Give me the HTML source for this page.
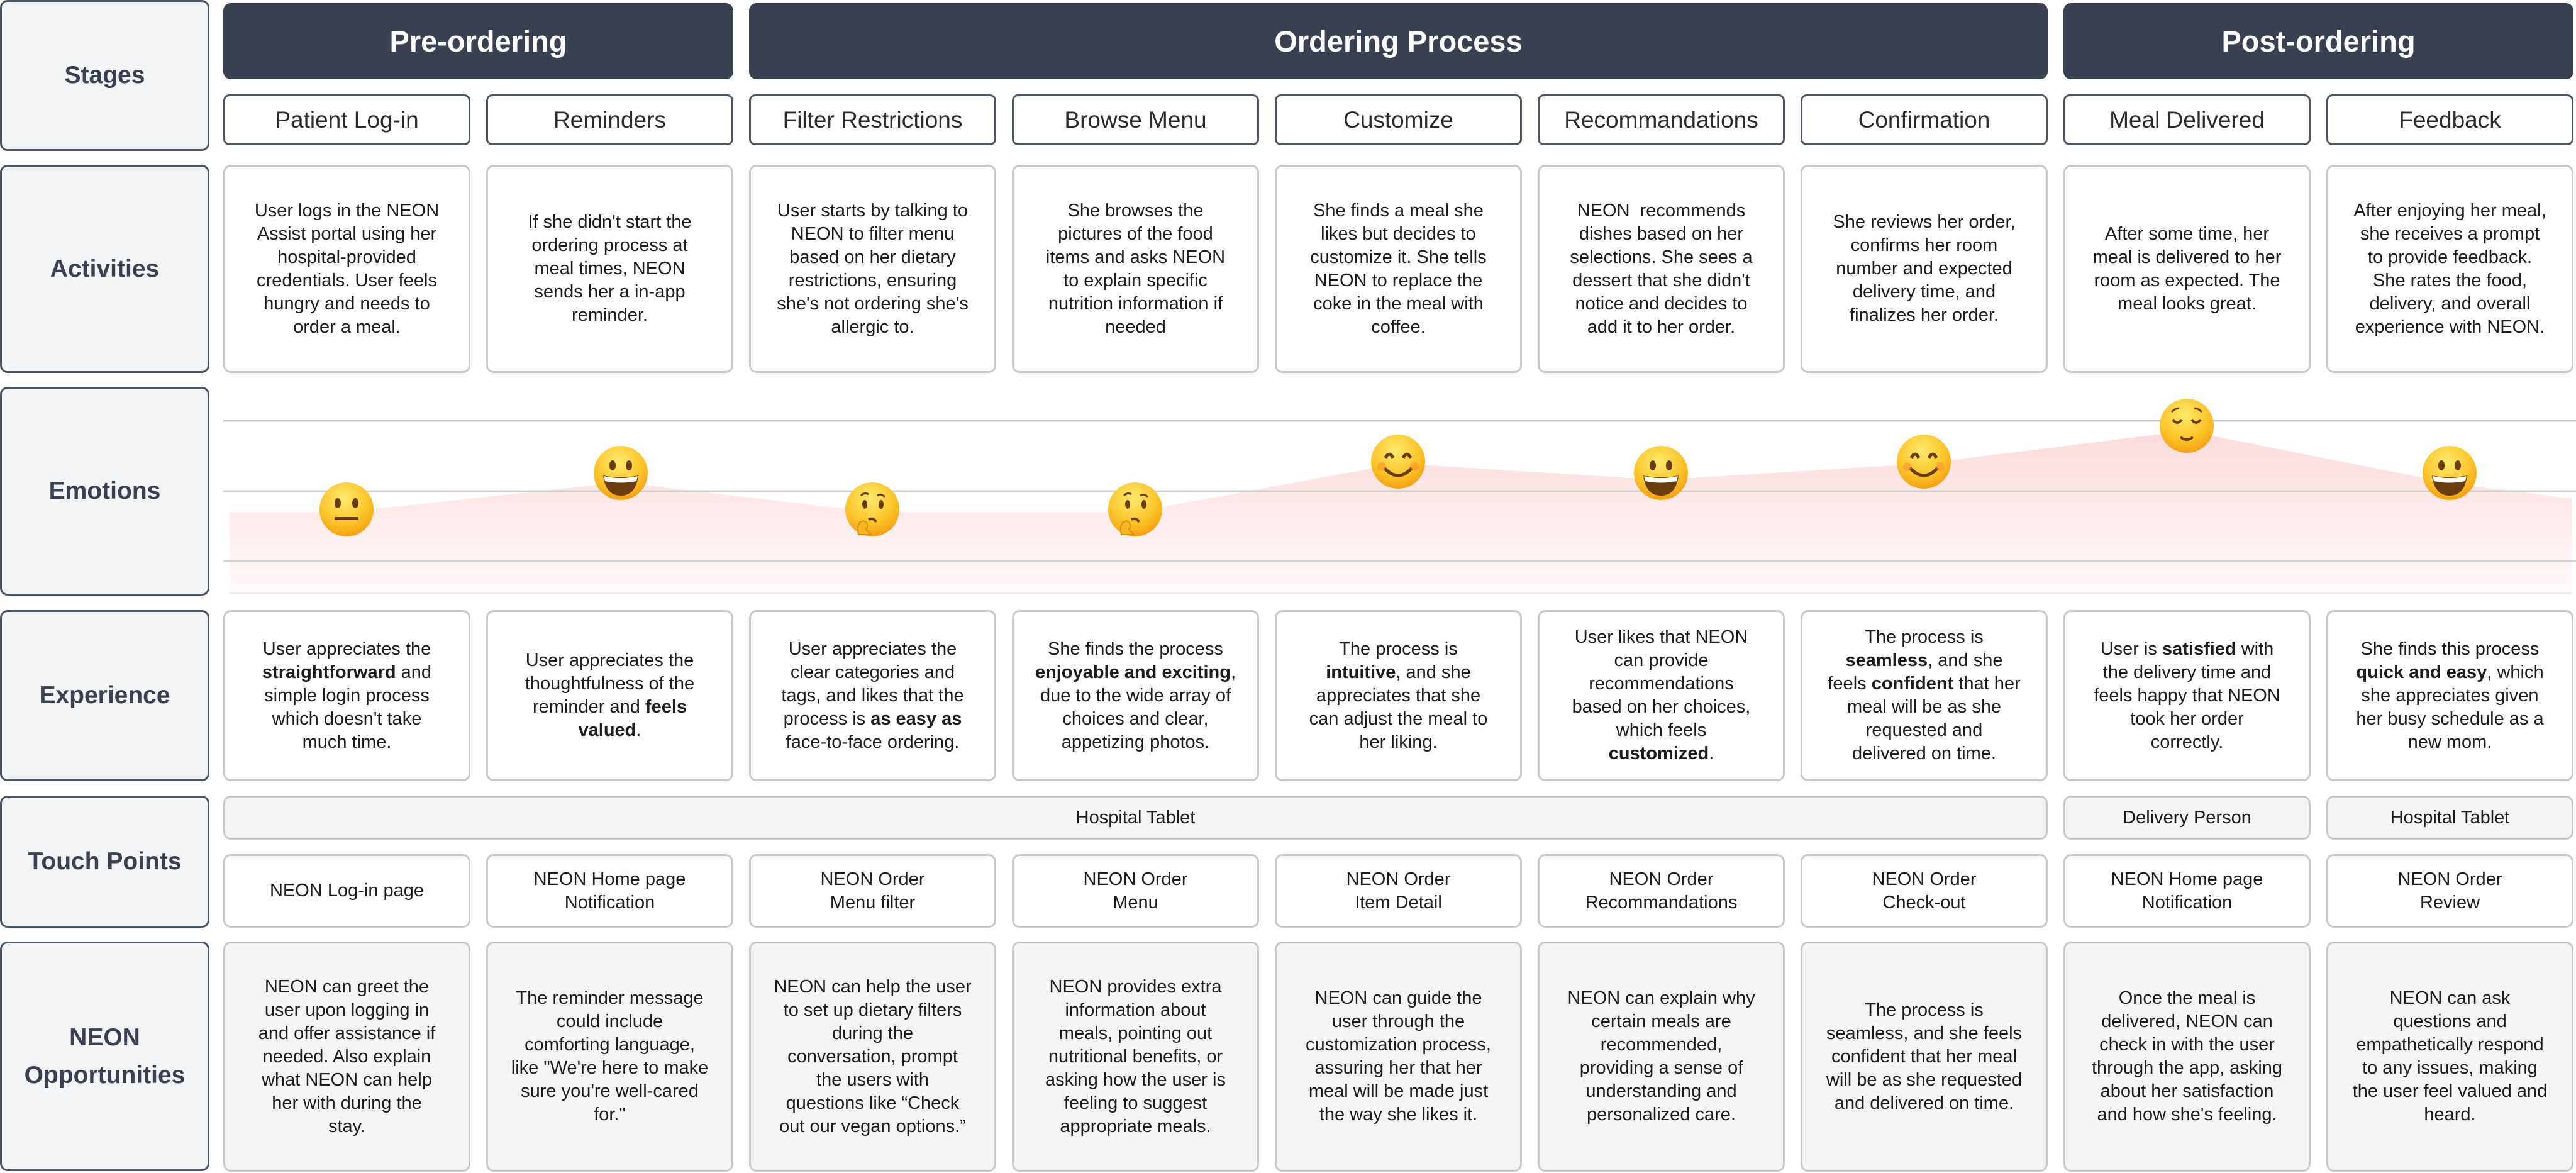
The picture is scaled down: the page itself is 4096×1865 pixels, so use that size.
<!DOCTYPE html>
<html><head><meta charset="utf-8"><style>
*{box-sizing:border-box;margin:0;padding:0}
body{width:4096px;height:1865px;background:#fff;position:relative;overflow:hidden;font-family:"Liberation Sans",Arial,sans-serif;color:#1c1c1c}
.a{position:absolute;display:flex;align-items:center;justify-content:center;text-align:center}
.a>div{white-space:nowrap}
.lab{background:#f3f4f6;border:3px solid #4b5563;border-radius:12px;font-weight:bold;font-size:39px;color:#394150;line-height:60px;left:0;width:333px}
.st{background:#394150;color:#fff;font-weight:bold;font-size:47px;border-radius:12px;top:5px;height:121px}
.sub{border:3px solid #4b5563;border-radius:10px;font-size:37px;color:#2b2b2b;top:150px;height:81px;width:393px;background:#fff}
.c{border:3px solid #c9c9c9;border-radius:12px;font-size:29px;line-height:37px;width:393px;background:#fff;padding:0 6px}
.g{background:#f3f4f6}
b{font-weight:bold}
</style></head><body>

<div class="a lab" style="top:0;height:240px"><div>Stages</div></div>
<div class="a lab" style="top:262px;height:331px"><div>Activities</div></div>
<div class="a lab" style="top:615px;height:332px"><div>Emotions</div></div>
<div class="a lab" style="top:970px;height:272px"><div>Experience</div></div>
<div class="a lab" style="top:1265px;height:210px"><div>Touch Points</div></div>
<div class="a lab" style="top:1497px;height:365px"><div>NEON<br>Opportunities</div></div>

<div class="a st" style="left:355px;width:811px"><div>Pre-ordering</div></div>
<div class="a st" style="left:1191px;width:2065px"><div>Ordering Process</div></div>
<div class="a st" style="left:3281px;width:811px"><div>Post-ordering</div></div>

<div class="a sub" style="left:355px"><div>Patient Log-in</div></div>
<div class="a sub" style="left:773px"><div>Reminders</div></div>
<div class="a sub" style="left:1191px"><div>Filter Restrictions</div></div>
<div class="a sub" style="left:1609px"><div>Browse Menu</div></div>
<div class="a sub" style="left:2027px"><div>Customize</div></div>
<div class="a sub" style="left:2445px"><div>Recommandations</div></div>
<div class="a sub" style="left:2863px"><div>Confirmation</div></div>
<div class="a sub" style="left:3281px"><div>Meal Delivered</div></div>
<div class="a sub" style="left:3699px"><div>Feedback</div></div>

<!-- Activities -->
<div class="a c" style="left:355px;top:262px;height:331px"><div>User logs in the NEON<br>Assist portal using her<br>hospital-provided<br>credentials. User feels<br>hungry and needs to<br>order a meal.</div></div>
<div class="a c" style="left:773px;top:262px;height:331px"><div>If she didn't start the<br>ordering process at<br>meal times, NEON<br>sends her a in-app<br>reminder.</div></div>
<div class="a c" style="left:1191px;top:262px;height:331px"><div>User starts by talking to<br>NEON to filter menu<br>based on her dietary<br>restrictions, ensuring<br>she's not ordering she's<br>allergic to.</div></div>
<div class="a c" style="left:1609px;top:262px;height:331px"><div>She browses the<br>pictures of the food<br>items and asks NEON<br>to explain specific<br>nutrition information if<br>needed</div></div>
<div class="a c" style="left:2027px;top:262px;height:331px"><div>She finds a meal she<br>likes but decides to<br>customize it. She tells<br>NEON to replace the<br>coke in the meal with<br>coffee.</div></div>
<div class="a c" style="left:2445px;top:262px;height:331px"><div>NEON&nbsp; recommends<br>dishes based on her<br>selections. She sees a<br>dessert that she didn't<br>notice and decides to<br>add it to her order.</div></div>
<div class="a c" style="left:2863px;top:262px;height:331px"><div>She reviews her order,<br>confirms her room<br>number and expected<br>delivery time, and<br>finalizes her order.</div></div>
<div class="a c" style="left:3281px;top:262px;height:331px"><div>After some time, her<br>meal is delivered to her<br>room as expected. The<br>meal looks great.</div></div>
<div class="a c" style="left:3699px;top:262px;height:331px"><div>After enjoying her meal,<br>she receives a prompt<br>to provide feedback.<br>She rates the food,<br>delivery, and overall<br>experience with NEON.</div></div>

<!-- Emotions -->
<svg style="position:absolute;left:0;top:0" width="4096" height="1000">
<defs>
<linearGradient id="pk" x1="0" y1="0" x2="0" y2="1"><stop offset="0" stop-color="#fcdcdc"/><stop offset="1" stop-color="#fffafa"/></linearGradient>
<radialGradient id="ye" cx="0.45" cy="0.3" r="0.75"><stop offset="0" stop-color="#ffe96b"/><stop offset="0.6" stop-color="#fcc52a"/><stop offset="1" stop-color="#f29a0c"/></radialGradient>
</defs>
<polygon points="365,814 551,814 987,767 1387,814 1805,814 2223,737 2641,763 3059,737 3477,685 3895,768 4090,793 4090,943 365,943" fill="url(#pk)"/>
<line x1="355" y1="669" x2="4096" y2="669" stroke="#c8c8c8" stroke-width="3"/>
<line x1="355" y1="781" x2="4096" y2="781" stroke="#cfcfcf" stroke-width="3"/>
<line x1="355" y1="892" x2="4096" y2="892" stroke="#d6d6d6" stroke-width="3"/>
<line x1="365" y1="943" x2="4090" y2="943" stroke="#eeeeee" stroke-width="2"/>
<g transform="translate(551,810)"><circle r="43" fill="url(#ye)"/><ellipse cx="-14" cy="-10" rx="5" ry="8" fill="#6b3d0c"/><ellipse cx="14" cy="-10" rx="5" ry="8" fill="#6b3d0c"/><rect x="-19" y="12" width="38" height="5" rx="2" fill="#6b3d0c"/></g>
<g transform="translate(987,752)"><circle r="43" fill="url(#ye)"/><ellipse cx="-13" cy="-12" rx="5" ry="8" fill="#6b3d0c"/><ellipse cx="13" cy="-12" rx="5" ry="8" fill="#6b3d0c"/><path d="M-28,4 Q0,10 28,4 Q24,36 0,36 Q-24,36 -28,4Z" fill="#6b3d0c"/><path d="M-27,5 Q0,11 27,5 L25,13 Q0,18 -25,13Z" fill="#fff"/></g>
<g transform="translate(1387,810)"><circle r="43" fill="url(#ye)"/><ellipse cx="-12" cy="-8" rx="4" ry="7" fill="#6b3d0c"/><ellipse cx="14" cy="-8" rx="4" ry="7" fill="#6b3d0c"/><path d="M-18,-22 q6,-6 12,-2 M8,-22 q6,-4 12,2" stroke="#6b3d0c" stroke-width="3" fill="none"/><path d="M-6,16 q8,-4 12,4" stroke="#6b3d0c" stroke-width="4" fill="none"/><path d="M-22,40 q-4,-20 8,-22 q10,4 4,14 l8,8 z" fill="#f7b623" stroke="#e0900a" stroke-width="2"/></g>
<g transform="translate(1805,810)"><circle r="43" fill="url(#ye)"/><ellipse cx="-12" cy="-8" rx="4" ry="7" fill="#6b3d0c"/><ellipse cx="14" cy="-8" rx="4" ry="7" fill="#6b3d0c"/><path d="M-18,-22 q6,-6 12,-2 M8,-22 q6,-4 12,2" stroke="#6b3d0c" stroke-width="3" fill="none"/><path d="M-6,16 q8,-4 12,4" stroke="#6b3d0c" stroke-width="4" fill="none"/><path d="M-22,40 q-4,-20 8,-22 q10,4 4,14 l8,8 z" fill="#f7b623" stroke="#e0900a" stroke-width="2"/></g>
<g transform="translate(2223,734)"><circle r="43" fill="url(#ye)"/><path d="M-20,-6 q6,-12 12,0 M8,-6 q6,-12 12,0" stroke="#6b3d0c" stroke-width="5" fill="none"/><path d="M-22,10 Q0,34 22,10" stroke="#6b3d0c" stroke-width="5" fill="none"/><circle cx="-26" cy="8" r="7" fill="#f6892a" opacity=".5"/><circle cx="26" cy="8" r="7" fill="#f6892a" opacity=".5"/></g>
<g transform="translate(2641,752)"><circle r="43" fill="url(#ye)"/><ellipse cx="-13" cy="-12" rx="5" ry="8" fill="#6b3d0c"/><ellipse cx="13" cy="-12" rx="5" ry="8" fill="#6b3d0c"/><path d="M-28,4 Q0,10 28,4 Q24,36 0,36 Q-24,36 -28,4Z" fill="#6b3d0c"/><path d="M-27,5 Q0,11 27,5 L25,13 Q0,18 -25,13Z" fill="#fff"/></g>
<g transform="translate(3059,734)"><circle r="43" fill="url(#ye)"/><path d="M-20,-6 q6,-12 12,0 M8,-6 q6,-12 12,0" stroke="#6b3d0c" stroke-width="5" fill="none"/><path d="M-22,10 Q0,34 22,10" stroke="#6b3d0c" stroke-width="5" fill="none"/><circle cx="-26" cy="8" r="7" fill="#f6892a" opacity=".5"/><circle cx="26" cy="8" r="7" fill="#f6892a" opacity=".5"/></g>
<g transform="translate(3477,677)"><circle r="43" fill="url(#ye)"/><path d="M-22,-10 q7,10 14,0 M8,-10 q7,10 14,0" stroke="#6b3d0c" stroke-width="4" fill="none"/><path d="M-24,-22 q6,-6 12,-6 M12,-28 q6,0 12,6" stroke="#6b3d0c" stroke-width="3" fill="none"/><path d="M-10,18 Q0,26 10,18" stroke="#6b3d0c" stroke-width="4" fill="none"/></g>
<g transform="translate(3895,752)"><circle r="43" fill="url(#ye)"/><ellipse cx="-13" cy="-12" rx="5" ry="8" fill="#6b3d0c"/><ellipse cx="13" cy="-12" rx="5" ry="8" fill="#6b3d0c"/><path d="M-28,4 Q0,10 28,4 Q24,36 0,36 Q-24,36 -28,4Z" fill="#6b3d0c"/><path d="M-27,5 Q0,11 27,5 L25,13 Q0,18 -25,13Z" fill="#fff"/></g>
</svg>

<!-- Experience -->
<div class="a c" style="left:355px;top:970px;height:272px"><div>User appreciates the<br><b>straightforward</b> and<br>simple login process<br>which doesn't take<br>much time.</div></div>
<div class="a c" style="left:773px;top:970px;height:272px"><div>User appreciates the<br>thoughtfulness of the<br>reminder and <b>feels<br>valued</b>.</div></div>
<div class="a c" style="left:1191px;top:970px;height:272px"><div>User appreciates the<br>clear categories and<br>tags, and likes that the<br>process is <b>as easy as</b><br>face-to-face ordering.</div></div>
<div class="a c" style="left:1609px;top:970px;height:272px"><div>She finds the process<br><b>enjoyable and exciting</b>,<br>due to the wide array of<br>choices and clear,<br>appetizing photos.</div></div>
<div class="a c" style="left:2027px;top:970px;height:272px"><div>The process is<br><b>intuitive</b>, and she<br>appreciates that she<br>can adjust the meal to<br>her liking.</div></div>
<div class="a c" style="left:2445px;top:970px;height:272px"><div>User likes that NEON<br>can provide<br>recommendations<br>based on her choices,<br>which feels<br><b>customized</b>.</div></div>
<div class="a c" style="left:2863px;top:970px;height:272px"><div>The process is<br><b>seamless</b>, and she<br>feels <b>confident</b> that her<br>meal will be as she<br>requested and<br>delivered on time.</div></div>
<div class="a c" style="left:3281px;top:970px;height:272px"><div>User is <b>satisfied</b> with<br>the delivery time and<br>feels happy that NEON<br>took her order<br>correctly.</div></div>
<div class="a c" style="left:3699px;top:970px;height:272px"><div>She finds this process<br><b>quick and easy</b>, which<br>she appreciates given<br>her busy schedule as a<br>new mom.</div></div>

<!-- Touch points -->
<div class="a c g" style="left:355px;top:1265px;height:70px;width:2901px"><div>Hospital Tablet</div></div>
<div class="a c g" style="left:3281px;top:1265px;height:70px"><div>Delivery Person</div></div>
<div class="a c g" style="left:3699px;top:1265px;height:70px"><div>Hospital Tablet</div></div>

<div class="a c" style="left:355px;top:1358px;height:117px"><div>NEON Log-in page</div></div>
<div class="a c" style="left:773px;top:1358px;height:117px"><div>NEON Home page<br>Notification</div></div>
<div class="a c" style="left:1191px;top:1358px;height:117px"><div>NEON Order<br>Menu filter</div></div>
<div class="a c" style="left:1609px;top:1358px;height:117px"><div>NEON Order<br>Menu</div></div>
<div class="a c" style="left:2027px;top:1358px;height:117px"><div>NEON Order<br>Item Detail</div></div>
<div class="a c" style="left:2445px;top:1358px;height:117px"><div>NEON Order<br>Recommandations</div></div>
<div class="a c" style="left:2863px;top:1358px;height:117px"><div>NEON Order<br>Check-out</div></div>
<div class="a c" style="left:3281px;top:1358px;height:117px"><div>NEON Home page<br>Notification</div></div>
<div class="a c" style="left:3699px;top:1358px;height:117px"><div>NEON Order<br>Review</div></div>

<!-- Opportunities -->
<div class="a c g" style="left:355px;top:1497px;height:366px"><div>NEON can greet the<br>user upon logging in<br>and offer assistance if<br>needed. Also explain<br>what NEON can help<br>her with during the<br>stay.</div></div>
<div class="a c g" style="left:773px;top:1497px;height:366px"><div>The reminder message<br>could include<br>comforting language,<br>like "We're here to make<br>sure you're well-cared<br>for."</div></div>
<div class="a c g" style="left:1191px;top:1497px;height:366px"><div>NEON can help the user<br>to set up dietary filters<br>during the<br>conversation, prompt<br>the users with<br>questions like “Check<br>out our vegan options.”</div></div>
<div class="a c g" style="left:1609px;top:1497px;height:366px"><div>NEON provides extra<br>information about<br>meals, pointing out<br>nutritional benefits, or<br>asking how the user is<br>feeling to suggest<br>appropriate meals.</div></div>
<div class="a c g" style="left:2027px;top:1497px;height:366px"><div>NEON can guide the<br>user through the<br>customization process,<br>assuring her that her<br>meal will be made just<br>the way she likes it.</div></div>
<div class="a c g" style="left:2445px;top:1497px;height:366px"><div>NEON can explain why<br>certain meals are<br>recommended,<br>providing a sense of<br>understanding and<br>personalized care.</div></div>
<div class="a c g" style="left:2863px;top:1497px;height:366px"><div>The process is<br>seamless, and she feels<br>confident that her meal<br>will be as she requested<br>and delivered on time.</div></div>
<div class="a c g" style="left:3281px;top:1497px;height:366px"><div>Once the meal is<br>delivered, NEON can<br>check in with the user<br>through the app, asking<br>about her satisfaction<br>and how she's feeling.</div></div>
<div class="a c g" style="left:3699px;top:1497px;height:366px"><div>NEON can ask<br>questions and<br>empathetically respond<br>to any issues, making<br>the user feel valued and<br>heard.</div></div>
</body></html>
